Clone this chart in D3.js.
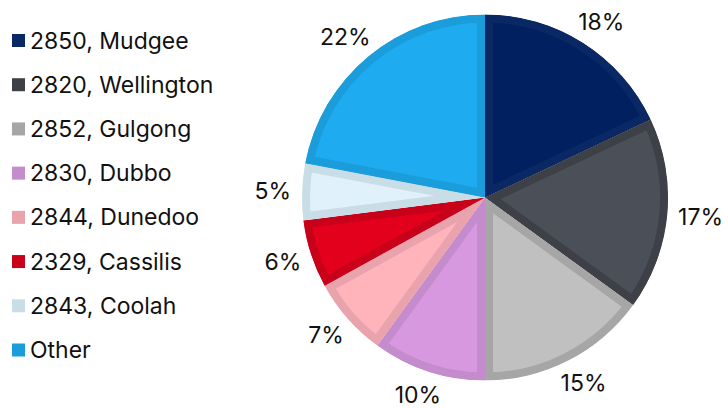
<!DOCTYPE html>
<html>
<head>
<meta charset="utf-8">
<script src="https://cdn.jsdelivr.net/npm/d3@7"></script>
<style>
  html, body { margin: 0; padding: 0; background: #ffffff; }
  svg { display: block; }
  text { font-family: Inter, "Liberation Sans", Arial, sans-serif; fill: #111111; }
</style>
</head>
<body>
<svg id="chart" width="728" height="408"></svg>
<script>
// Share of residents by postcode area (%)
const categories = ["2850, Mudgee", "2820, Wellington", "2852, Gulgong", "2830, Dubbo",
                    "2844, Dunedoo", "2329, Cassilis", "2843, Coolah", "Other"];
const shares = [18, 17, 15, 10, 7, 6, 5, 22];

// Slice fill and the darker rim / legend swatch colour
const fillColors = ["#002060", "#4b5058", "#c0c0c0", "#d898e0", "#ffb3ba", "#e2001c", "#e0f1fb", "#1eabf0"];
const rimColors  = ["#0a2864", "#3d4147", "#a6a6a6", "#c48bcd", "#e8a3ad", "#c9001a", "#c9dde6", "#1a9dda"];

const svg = d3.select("#chart");
const cx = 485, cy = 197.5, R = 183, labelGap = 11;
const fontSize = 23;

const data = categories.map((c, i) => ({ name: c, value: shares[i], fill: fillColors[i], rim: rimColors[i] }));

const pie = d3.pie().sort(null).value(d => d.value);
const arc = d3.arc().innerRadius(0).outerRadius(R);
const arcs = pie(data);

const defs = svg.append("defs");
const g = svg.append("g").attr("transform", `translate(${cx},${cy})`);

arcs.forEach((a, i) => {
  defs.append("clipPath").attr("id", "clip" + i)
    .append("path").attr("d", arc(a));
});

// Slices: the stroke is clipped to each slice so the rim sits inside it
g.selectAll("path.slice")
  .data(arcs)
  .join("path")
  .attr("class", "slice")
  .attr("d", arc)
  .attr("fill", d => d.data.fill)
  .attr("stroke", d => d.data.rim)
  .attr("stroke-width", 16)
  .attr("stroke-linejoin", "miter")
  .attr("clip-path", (d, i) => `url(#clip${i})`);

// Percentage labels: box placed just outside the rim at the slice's mid angle
const labels = g.selectAll("text.pct")
  .data(arcs)
  .join("text")
  .attr("class", "pct")
  .attr("text-anchor", "middle")
  .attr("dominant-baseline", "central")
  .style("font-size", fontSize + "px")
  .text(d => d.data.value + "%");

labels.each(function(d) {
  const bb = this.getBBox();
  const mid = (d.startAngle + d.endAngle) / 2;
  const s = Math.sin(mid), c = Math.cos(mid);
  const r = R + labelGap;
  const x = r * s + s * bb.width / 2;
  const y = -r * c - c * bb.height / 2;
  d3.select(this).attr("transform", `translate(${x},${y})`);
});

// Legend
const y = d3.scalePoint().domain(categories).range([40.5, 350]);
const legend = svg.append("g").selectAll("g")
  .data(data)
  .join("g")
  .attr("transform", d => `translate(12,${y(d.name)})`);

legend.append("rect")
  .attr("x", 0).attr("y", -6.5)
  .attr("width", 13).attr("height", 13)
  .attr("fill", d => d.rim);

legend.append("text")
  .attr("x", 18).attr("y", 0)
  .attr("dominant-baseline", "central")
  .style("font-size", fontSize + "px")
  .text(d => d.name);
</script>
</body>
</html>
